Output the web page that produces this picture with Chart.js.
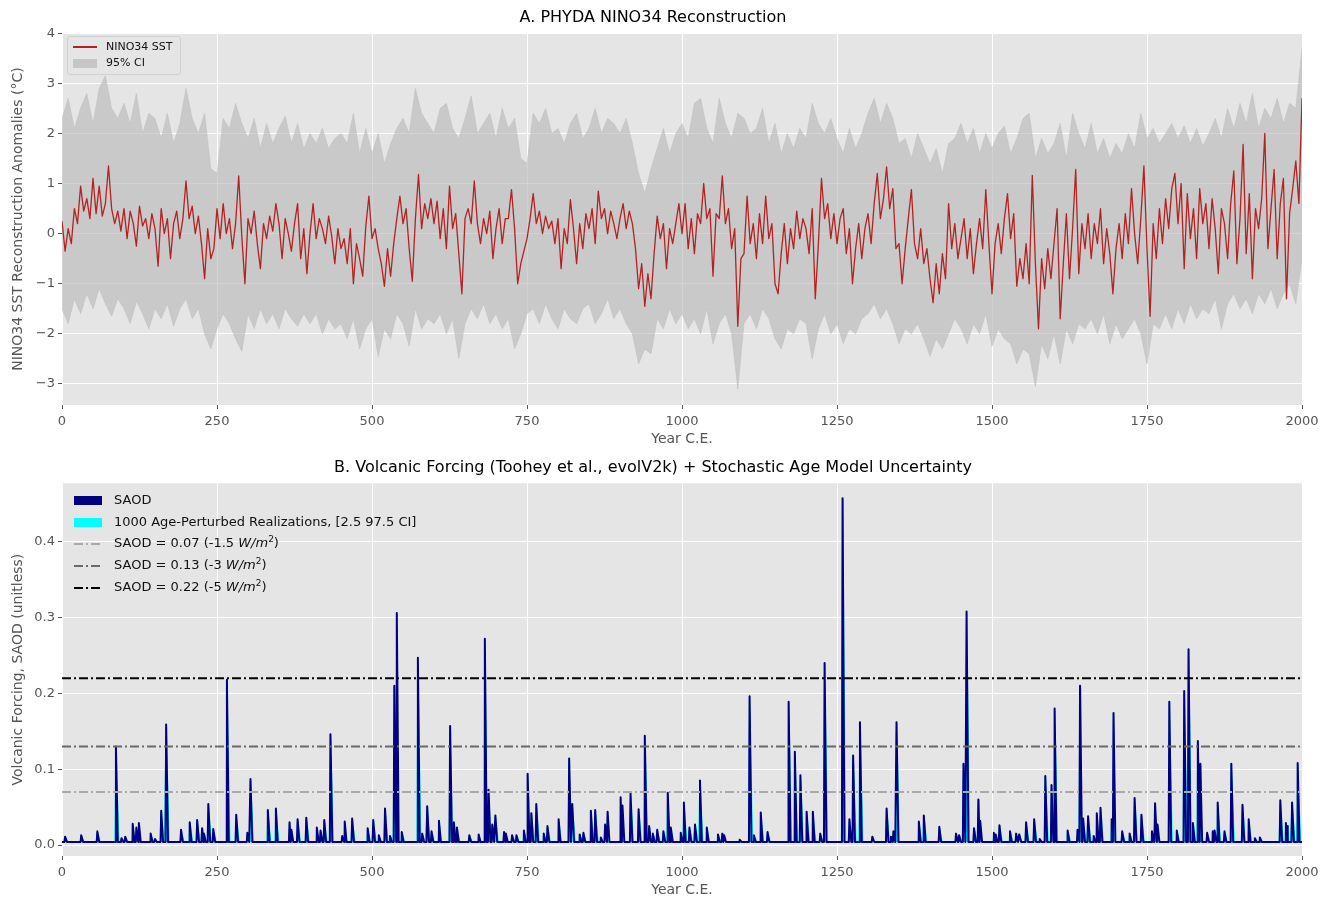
<!DOCTYPE html>
<html>
<head>
<meta charset="utf-8">
<title>PHYDA NINO34 and volcanic forcing</title>
<script src="https://cdn.jsdelivr.net/npm/chart.js@4.4.1/dist/chart.umd.min.js"></script>
<style>
  body { margin: 0; background: #fff; font-family: 'DejaVu Sans', sans-serif; }
  #wrap { position: relative; width: 1334px; height: 901px; }
  canvas { position: absolute; left: 0; }
  #topChart { top: 0; }
  #botChart { top: 450px; }
  .leg { position: absolute; color: #111; }
  #leg1 { left: 67px; top: 36px; width: 112px; height: 37px; border: 1px solid #d0d0d0; border-radius: 3px;
          background: rgba(229,229,229,0.8); font-size: 11px; }
  #leg1 .row { position: absolute; left: 5px; height: 14px; line-height: 14px; white-space: nowrap; }
  #leg1 .sw { display: inline-block; width: 24px; vertical-align: middle; margin-right: 9px; }
  #leg2 { left: 74px; top: 490px; font-size: 13px; }
  #leg2 .row { position: absolute; left: 0; height: 16px; line-height: 16px; white-space: nowrap; }
  #leg2 .sw { display: inline-block; width: 28px; vertical-align: middle; margin-right: 12px; }
  sup { font-size: 9px; line-height: 0; }
</style>
</head>
<body>
<div id="wrap">
  <canvas id="topChart" width="1334" height="450"></canvas>
  <canvas id="botChart" width="1334" height="451"></canvas>

  <div id="leg1" class="leg">
    <div class="row" style="top:3px"><span class="sw" style="height:0;border-top:2px solid #b22222;"></span>NINO34 SST</div>
    <div class="row" style="top:19px"><span class="sw" style="height:9px;background:#c6c6c6;"></span>95% CI</div>
  </div>

  <div id="leg2" class="leg">
    <div class="row" style="top:2px"><span class="sw" style="height:9px;background:#000080;"></span>SAOD</div>
    <div class="row" style="top:24px"><span class="sw" style="height:9px;background:#00ffff;"></span>1000 Age-Perturbed Realizations, [2.5 97.5 CI]</div>
    <div class="row" style="top:45px"><svg class="sw" width="28" height="4"><line x1="0" y1="2" x2="28" y2="2" stroke="#a9a9a9" stroke-width="2" stroke-dasharray="9,3,2,3"/></svg>SAOD = 0.07 (-1.5 <i>W/m</i><sup>2</sup>)</div>
    <div class="row" style="top:67px"><svg class="sw" width="28" height="4"><line x1="0" y1="2" x2="28" y2="2" stroke="#696969" stroke-width="2" stroke-dasharray="9,3,2,3"/></svg>SAOD = 0.13 (-3 <i>W/m</i><sup>2</sup>)</div>
    <div class="row" style="top:89px"><svg class="sw" width="28" height="4"><line x1="0" y1="2" x2="28" y2="2" stroke="#000000" stroke-width="2" stroke-dasharray="9,3,2,3"/></svg>SAOD = 0.22 (-5 <i>W/m</i><sup>2</sup>)</div>
  </div>
</div>

<script>
// ---- data ----
// NINO34 SST anomaly, sampled every 5 years from 0 to 2000 C.E.
const sstStep = 5;
const sstMean = [
  0.25, -0.35, 0.1, -0.2, 0.5, 0.2, 0.95, 0.45, 0.7, 0.3,
  1.1, 0.4, 0.95, 0.35, 0.6, 1.35, 0.5, 0.2, 0.45, 0.05,
  0.5, -0.1, 0.45, 0.2, -0.25, 0.55, 0.15, 0.3, -0.1, 0.4,
  0.1, -0.65, 0.5, 0.0, 0.3, -0.5, 0.2, 0.45, -0.1, 0.3,
  1.05, 0.3, 0.55, 0.0, 0.35, -0.2, -0.9, 0.1, -0.5, -0.3,
  0.5, -0.1, 0.6, 0.0, 0.3, -0.3, 0.2, 1.15, -0.05, -1.0,
  0.3, 0.0, 0.45, -0.2, -0.7, 0.2, -0.1, 0.35, 0.05, 0.6,
  0.2, -0.5, 0.3, 0.0, -0.35, 0.2, 0.6, -0.5, 0.1, -0.8,
  0.0, 0.6, -0.1, 0.3, 0.1, -0.2, 0.35, -0.05, -0.6, 0.1,
  -0.3, -0.1, -0.6, 0.1, -1.0, -0.2, -0.5, -0.85, 0.15, 0.75,
  -0.1, 0.1, -0.3, -0.6, -1.05, -0.3, -0.85, -0.2, 0.3, 0.75,
  0.2, 0.5, -0.3, -0.95, 0.3, 1.18, 0.1, 0.6, 0.3, 0.7,
  0.2, 0.65, -0.1, 0.5, -0.3, 0.95, 0.1, 0.4, -0.4, -1.2,
  0.3, 0.5, 0.2, 1.05, 0.2, -0.2, 0.3, 0.0, 0.45, -0.5,
  0.1, 0.5, -0.2, 0.3, 0.3, 0.88, 0.1, -1.0, -0.6, -0.35,
  -0.1, 0.3, 0.8, 0.2, 0.45, 0.0, 0.35, 0.1, 0.25, -0.2,
  0.3, -0.7, 0.1, -0.2, 0.68, 0.1, -0.6, 0.2, -0.3, 0.4,
  0.1, 0.5, -0.2, 0.85, 0.3, 0.5, 0.0, 0.45, 0.2, -0.1,
  0.3, 0.6, 0.1, 0.45, 0.2, -0.3, -1.1, -0.6, -1.45, -0.8,
  -1.3, -0.4, 0.35, -0.1, 0.2, -0.7, 0.1, -0.2, 0.2, 0.6,
  0.0, 0.6, -0.3, 0.3, -0.4, 0.4, 0.2, 1.0, 0.3, 0.5,
  -0.85, 0.4, 0.3, 1.15, 0.2, 0.5, -0.3, 0.1, -1.85, -0.5,
  -0.4, 0.75, -0.2, 0.2, -0.5, 0.4, -0.2, 0.75, -0.1, 0.2,
  -1.0, -1.2, -0.4, 0.2, -0.6, 0.1, -0.3, 0.45, -0.1, 0.3,
  0.1, -0.4, 0.5, -1.3, -0.2, 1.1, 0.3, 0.6, -0.1, 0.4,
  -0.2, 0.3, 0.5, -0.4, 0.1, -1.0, -0.3, 0.2, -0.5, 0.1,
  0.4, -0.2, 0.6, 1.2, 0.3, 0.7, 1.33, 0.5, 0.9, -0.3,
  -0.2, -1.0, -0.3, 0.3, 0.88, -0.2, -0.5, 0.1, -0.6, -0.3,
  -0.9, -1.38, -0.6, -1.2, -0.4, -0.9, 0.6, -0.3, 0.2, -0.5,
  -0.1, 0.3, -0.5, 0.1, -0.8, -0.2, 0.3, -0.3, 0.88, -0.2,
  -1.2, -0.2, 0.2, -0.4, 0.3, 0.8, -0.1, 0.4, -1.05, -0.5,
  -0.9, -0.2, -1.0, 1.16, -0.6, -1.9, -0.5, -1.1, -0.3, -0.9,
  -0.2, 0.5, -1.7, -0.6, 0.4, -0.9, 0.1, 1.28, -0.8, 0.2,
  -0.3, 0.4, -0.5, 0.2, -0.2, 0.5, -0.6, 0.1, -0.4, -1.2,
  -0.3, 0.2, -0.5, 0.4, -0.2, 0.9, 0.0, -0.6, 0.3, 1.35,
  -0.3, -1.65, 0.2, -0.5, 0.5, -0.2, 0.7, 0.1, 0.9, 1.2,
  0.2, 1.0, -0.7, 0.8, -0.1, 0.5, -0.5, 0.9, 0.2, 0.6,
  -0.3, 0.7, 0.1, -0.8, 0.5, 0.2, -0.5, 0.6, 1.25, -0.6,
  0.3, 1.78, -0.4, 0.8, -0.9, 0.5, 0.1, 0.7, 2.0, -0.3,
  0.5, 1.28, -0.5, 0.6, 1.1, -1.3, 0.4, 0.9, 1.45, 0.6,
  2.7
];

// 95% CI bounds, every 10 years
const ciStep = 10;
const ciUpper = [
  2.3, 2.7, 2.1, 2.5, 2.8, 2.2, 2.9, 3.15, 2.5, 2.3,
  2.6, 2.2, 2.8, 2.0, 2.4, 2.3, 1.9, 2.4, 1.8, 2.2,
  2.9, 2.3, 2.0, 2.4, 1.3, 1.2, 2.3, 2.1, 2.6, 2.2,
  1.9, 2.3, 1.7, 2.2, 1.8, 2.1, 2.35, 1.8, 2.2, 1.7,
  2.0, 1.8, 2.1, 1.7, 1.9, 2.0, 1.8, 2.4, 1.6, 2.1,
  1.6, 2.0, 1.4, 1.8, 2.1, 2.3, 2.0, 2.9, 2.4, 2.2,
  2.0, 2.5, 2.6, 2.1, 1.9, 2.3, 2.75, 2.0, 2.2, 2.4,
  1.9, 2.5, 2.1, 2.3, 1.5, 1.4, 2.4, 2.2, 2.5, 2.0,
  2.1, 1.8, 2.2, 2.4, 1.9, 2.1, 2.5, 2.0, 2.3, 2.2,
  2.0, 2.3, 1.8, 1.2, 0.8, 1.3, 1.7, 2.1, 1.6, 2.0,
  2.2, 1.9, 2.6, 2.7, 2.1, 1.8, 2.7, 2.2, 1.9, 2.4,
  2.3, 2.0, 2.1, 2.5, 1.8, 2.2, 1.6, 2.0, 1.7, 2.1,
  1.9, 2.6, 2.2, 2.0, 2.3, 1.9, 1.6, 2.1, 1.7, 2.0,
  2.4, 2.7, 2.2, 2.6, 2.3, 1.8, 1.9, 1.5, 2.0, 1.7,
  1.4, 1.7, 1.2, 1.8, 1.9, 2.2, 1.8, 2.1, 1.6, 2.0,
  1.7, 2.0, 2.15, 1.6, 1.9, 2.3, 2.4, 1.5, 1.9, 1.6,
  1.8, 2.2, 1.5, 2.4, 2.0, 1.7, 2.2, 1.6, 1.9, 1.5,
  1.8, 1.6, 2.0, 1.7, 2.4, 1.9, 2.1, 1.8, 2.0, 2.2,
  1.9, 2.15, 1.8, 2.1, 1.75, 2.0, 2.3, 1.9, 2.5, 2.1,
  2.6, 2.2, 2.8, 2.1, 2.5, 2.3, 2.7, 2.2, 2.6, 2.5,
  3.7
];
const ciLower = [
  -1.5, -1.8, -1.3, -1.6, -1.2, -1.5, -1.1, -1.4, -1.65, -1.3,
  -1.5, -1.8, -1.35, -1.6, -1.9, -1.5, -1.7, -1.4, -1.85, -1.5,
  -1.3, -1.7, -1.5, -2.0, -2.3, -1.9, -1.6, -1.8, -2.1, -2.35,
  -1.6, -1.9, -1.5, -1.8, -1.6, -1.9, -1.5, -1.7, -1.85, -1.6,
  -1.8, -1.6, -2.0, -1.7, -1.9, -1.8, -2.1, -1.7, -2.3, -1.9,
  -1.7, -2.45, -1.9, -2.1, -1.6, -1.8, -2.25, -1.5, -1.9, -1.7,
  -1.8, -1.6, -2.0, -1.7, -2.5, -1.8, -1.5, -1.7, -1.4, -1.8,
  -1.6, -1.9, -1.7, -2.3, -2.0, -1.6, -1.5, -1.8, -1.4, -1.7,
  -1.9, -1.5, -1.7, -1.8, -1.5, -1.4, -1.8, -1.6, -1.3, -1.7,
  -1.5, -1.8, -2.0, -2.6, -2.3, -2.4, -1.7, -1.9, -1.5, -1.8,
  -1.6, -1.9, -1.7, -2.0, -1.5, -2.2, -1.8, -1.6, -2.0, -3.1,
  -1.8, -1.6, -1.9, -1.5, -1.7, -2.1, -2.3, -1.9, -2.0, -1.7,
  -1.8, -2.5, -1.9, -1.6, -2.0, -1.8, -2.2, -1.9, -2.0, -1.7,
  -1.6, -1.4, -1.7, -1.5, -1.8, -2.2, -1.9, -2.0, -1.8, -2.1,
  -2.45, -2.1, -2.3, -2.0, -1.7, -1.9, -2.2, -1.8, -2.0, -1.6,
  -2.25, -1.9, -2.1, -2.2, -2.6, -2.3, -2.4, -3.05, -2.2, -2.5,
  -2.0, -2.6, -1.9, -2.2, -1.8, -1.9, -1.7, -2.0, -1.6, -2.2,
  -1.8, -2.1, -1.9, -1.7, -2.0, -2.6, -1.8, -1.9, -1.6, -1.9,
  -1.5, -1.8, -1.4, -1.7, -1.5, -1.6, -1.3, -1.9, -1.4, -1.2,
  -1.5, -1.3, -1.6, -1.2, -1.4, -1.1, -1.5, -1.2, -1.0, -1.4,
  -0.5
];

// volcanic SAOD events: year and peak value
const volcYears = [
  5, 31, 57, 87, 96, 102, 114, 120, 124, 143, 150, 160, 168, 192, 206, 218, 226, 229, 236, 244,
  266, 281, 299, 304, 332, 345, 367, 370, 380, 394, 411, 417, 423, 433, 452, 456, 468, 493, 502,
  511, 521, 529, 536, 540, 548, 574, 581, 589, 596, 608, 626, 632, 637, 657, 672, 682, 688, 694, 699,
  713, 716, 726, 733, 745, 751, 757, 765, 777, 783, 801, 818, 823, 835, 841, 853, 860, 869, 876, 880,
  901, 904, 917, 930, 940, 947, 953, 960, 970, 977, 982, 998, 1003,
  1012, 1021, 1029, 1040, 1058, 1065, 1068, 1093, 1109, 1116, 1127, 1138, 1172, 1182, 1191, 1201, 1211,
  1223, 1230, 1259, 1270, 1276, 1287, 1307, 1330, 1337, 1341, 1346, 1382, 1390, 1415, 1442, 1447, 1454,
  1459, 1471, 1478, 1481,
  1503, 1506, 1512, 1529, 1539, 1544, 1555, 1568, 1577, 1586, 1596, 1601, 1622, 1638, 1642, 1647, 1655,
  1664, 1669, 1675, 1693, 1696, 1710, 1722, 1730, 1741, 1758, 1763, 1767, 1786, 1798, 1810, 1817, 1824,
  1832, 1836, 1847, 1856, 1859, 1864, 1875, 1886, 1904, 1914, 1924, 1932, 1965, 1974, 1976, 1984, 1993
];
const volcPeaks = [
  0.011, 0.013, 0.018, 0.13, 0.009, 0.011, 0.028, 0.023, 0.029, 0.015, 0.008, 0.045, 0.159, 0.02, 0.03, 0.033, 0.022, 0.015, 0.054, 0.021,
  0.218, 0.04, 0.016, 0.087, 0.046, 0.048, 0.03, 0.02, 0.034, 0.036, 0.023, 0.019, 0.033, 0.146, 0.012, 0.031, 0.035, 0.022, 0.033,
  0.013, 0.048, 0.012, 0.21, 0.306, 0.017, 0.247, 0.015, 0.051, 0.018, 0.032, 0.157, 0.03, 0.023, 0.013, 0.014, 0.272, 0.073, 0.027, 0.039,
  0.017, 0.015, 0.013, 0.013, 0.019, 0.094, 0.042, 0.054, 0.015, 0.025, 0.034, 0.114, 0.054, 0.014, 0.016, 0.045, 0.046, 0.01, 0.027, 0.044,
  0.063, 0.052, 0.068, 0.047, 0.144, 0.025, 0.015, 0.02, 0.018, 0.069, 0.023, 0.016, 0.056,
  0.023, 0.027, 0.085, 0.023, 0.014, 0.015, 0.013, 0.007, 0.196, 0.013, 0.043, 0.017, 0.189, 0.123, 0.092, 0.044, 0.044,
  0.015, 0.24, 0.457, 0.034, 0.118, 0.162, 0.011, 0.048, 0.011, 0.018, 0.162, 0.031, 0.039, 0.024, 0.015, 0.013, 0.107,
  0.308, 0.022, 0.06, 0.032,
  0.016, 0.014, 0.026, 0.018, 0.015, 0.014, 0.03, 0.034, 0.008, 0.091, 0.079, 0.18, 0.019, 0.02, 0.21, 0.035, 0.038,
  0.012, 0.042, 0.049, 0.034, 0.174, 0.018, 0.015, 0.062, 0.04, 0.018, 0.055, 0.027, 0.189, 0.019, 0.203, 0.258, 0.029,
  0.137, 0.107, 0.016, 0.018, 0.019, 0.056, 0.018, 0.107, 0.053, 0.034, 0.009, 0.01, 0.059, 0.029, 0.025, 0.056, 0.108
];
const saodBaseline = 0.004;
const thresholds = [0.07, 0.13, 0.22];
const thresholdColors = ['#a9a9a9', '#696969', '#000000'];

const xTicks = [0, 250, 500, 750, 1000, 1250, 1500, 1750, 2000];
const sstTicks = [-3, -2, -1, 0, 1, 2, 3, 4];
const saodTicks = [0.0, 0.1, 0.2, 0.3, 0.4];

// ---- helpers ----
const toXY = (arr, step) => arr.map((v, i) => ({x: i * step, y: v}));

// spikes: each event drawn from baseline up to its peak and back
function spikeSeries(left, right) {
  const m = new Map();
  volcYears.forEach((y, i) => m.set(y, Math.max(m.get(y) || 0, volcPeaks[i])));
  volcYears.forEach(y => {
    if (!m.has(y - left)) m.set(y - left, saodBaseline);
    if (!m.has(y + right)) m.set(y + right, saodBaseline);
  });
  if (!m.has(0)) m.set(0, saodBaseline);
  if (!m.has(2000)) m.set(2000, saodBaseline);
  return [...m.keys()].filter(k => k >= 0 && k <= 2000).sort((a, b) => a - b)
    .map(k => ({x: k, y: m.get(k)}));
}

const bgPlugin = {
  id: 'bg',
  beforeDraw(chart) {
    const a = chart.chartArea, ctx = chart.ctx;
    ctx.save();
    ctx.fillStyle = '#e5e5e5';
    ctx.fillRect(a.left, a.top, a.right - a.left, a.bottom - a.top);
    ctx.restore();
  }
};

const font = 'DejaVu Sans';
const minus = s => String(s).replace('-', '\u2212');

function xScale() {
  return {
    type: 'linear', min: 0, max: 2000,
    afterBuildTicks: s => { s.ticks = xTicks.map(v => ({value: v})); },
    ticks: {color: '#555', font: {family: font, size: 13}, padding: 5, maxRotation: 0, autoSkip: false,
            callback: v => String(v)},
    grid: {color: '#ffffff', lineWidth: 1, drawTicks: true, tickLength: 4, tickColor: '#555'},
    border: {display: false},
    title: {display: true, text: 'Year C.E.', color: '#555', font: {family: font, size: 14}, padding: {top: 2, bottom: 2}},
    afterFit: s => { s.height = 45; }
  };
}

function yScale(min, max, ticks, label, fmt) {
  return {
    type: 'linear', min: min, max: max,
    afterBuildTicks: s => { s.ticks = ticks.map(v => ({value: v})); },
    ticks: {color: '#555', font: {family: font, size: 13}, padding: 3, callback: fmt},
    grid: {color: '#ffffff', lineWidth: 1, drawTicks: true, tickLength: 4, tickColor: '#555'},
    border: {display: false},
    title: {display: true, text: label, color: '#555', font: {family: font, size: 14}, padding: {top: 6, bottom: 0}},
    afterFit: s => { s.width = 58; }
  };
}

function baseOptions(title) {
  return {
    responsive: false,
    animation: false,
    layout: {padding: {left: 4, right: 32, top: 0, bottom: 0}},
    plugins: {
      legend: {display: false},
      tooltip: {enabled: false},
      title: {display: true, text: title, color: '#000', font: {family: font, size: 16, weight: 'normal'},
              padding: {top: 8, bottom: 6}}
    },
    elements: {point: {radius: 0}, line: {tension: 0, borderJoinStyle: 'round'}}
  };
}

// ---- top: NINO34 reconstruction ----
const topOpts = baseOptions('A. PHYDA NINO34 Reconstruction');
topOpts.scales = {
  x: xScale(),
  y: yScale(-3.42, 4.0, sstTicks, 'NINO34 SST Reconstruction Anomalies (\u00b0C)', v => minus(v))
};
new Chart(document.getElementById('topChart'), {
  type: 'line',
  data: {
    datasets: [
      {label: 'NINO34 SST', data: toXY(sstMean, sstStep), borderColor: '#b22222', borderWidth: 1.3, fill: false},
      {label: 'ci lower', data: toXY(ciLower, ciStep), borderColor: 'rgba(190,190,190,0.6)', borderWidth: 0.8, fill: false},
      {label: '95% CI', data: toXY(ciUpper, ciStep), borderColor: 'rgba(190,190,190,0.6)', borderWidth: 0.8,
       backgroundColor: 'rgba(182,182,182,0.6)', fill: 1}
    ]
  },
  options: topOpts,
  plugins: [bgPlugin]
});

// ---- bottom: volcanic forcing ----
const botOpts = baseOptions('B. Volcanic Forcing (Toohey et al., evolV2k) + Stochastic Age Model Uncertainty');
botOpts.scales = {
  x: xScale(),
  y: yScale(-0.0145, 0.477, saodTicks, 'Volcanic Forcing, SAOD (unitless)', v => v.toFixed(1))
};
const thresholdSets = thresholds.map((t, i) => ({
  label: 'SAOD = ' + t,
  data: [{x: 0, y: t}, {x: 2000, y: t}],
  borderColor: thresholdColors[i], borderWidth: 2, borderDash: [9, 3, 2, 3], fill: false
}));
new Chart(document.getElementById('botChart'), {
  type: 'line',
  data: {
    datasets: [
      ...thresholdSets,
      {label: 'SAOD', data: spikeSeries(1, 3), borderColor: '#000080', borderWidth: 2, fill: false},
      {label: '1000 Age-Perturbed Realizations', data: spikeSeries(2, 5), borderColor: '#00ffff', borderWidth: 1,
       backgroundColor: '#00ffff', fill: {value: saodBaseline}}
    ]
  },
  options: botOpts,
  plugins: [bgPlugin]
});
</script>
</body>
</html>
